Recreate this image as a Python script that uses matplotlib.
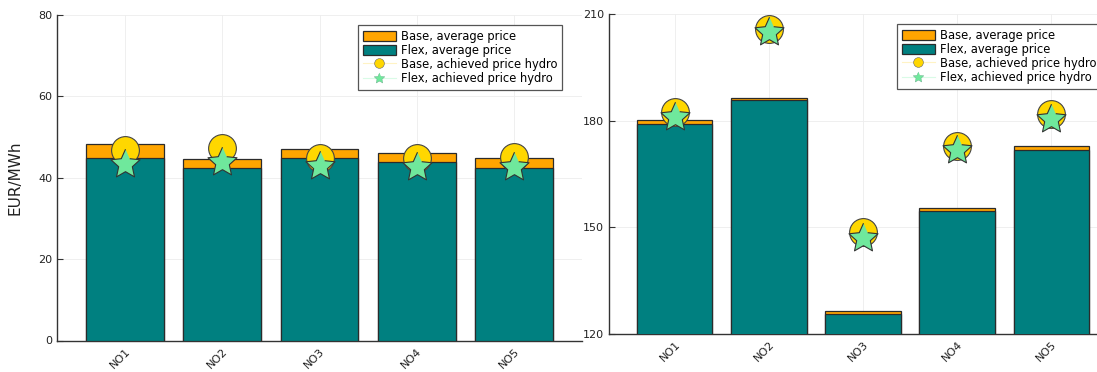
import matplotlib
matplotlib.use('Agg')
import matplotlib.pyplot as plt
from matplotlib.patches import Patch
from matplotlib.lines import Line2D
import numpy as np

# areas and prices
areas = ['NO1', 'NO2', 'NO3', 'NO4', 'NO5']

# left panel
base_avg_l = [48.3, 44.7, 47.0, 46.0, 44.9]
flex_avg_l = [44.8, 42.3, 44.8, 43.9, 42.5]
base_hydro_l = [46.8, 47.2, 44.9, 44.9, 45.0]
flex_hydro_l = [43.5, 43.8, 42.9, 42.7, 42.6]

# right panel
base_avg_r = [180.3, 186.5, 126.5, 155.5, 172.9]
flex_avg_r = [179.0, 185.9, 125.6, 154.6, 171.8]
base_hydro_r = [182.3, 205.7, 148.6, 172.9, 181.8]
flex_hydro_r = [180.9, 205.0, 147.0, 171.7, 180.6]

ORANGE = '#FFA500'
TEAL = '#008080'
GOLD = '#FFD700'
GREEN = '#6FE89C'
EDGE = '#2b2b2b'

# fatter 5-point star, like the julia star5 marker
ang = np.pi / 2 + np.arange(10) * np.pi / 5
rad = np.where(np.arange(10) % 2 == 0, 1.0, 0.47)
STAR = list(zip(rad * np.cos(ang), rad * np.sin(ang)))

plt.rcParams['font.family'] = 'DejaVu Sans'

W, H = 1097, 372
fig = plt.figure(figsize=(W / 100, H / 100), dpi=100)
# pixel boxes; right panel runs past the image edge like in the original
ax1 = fig.add_axes([57 / W, (H - 340.5) / H, 525 / W, 325.5 / H])
ax2 = fig.add_axes([609 / W, (H - 334) / H, 508 / W, 320 / H])


def draw_panel(ax, base_avg, flex_avg, base_hydro, flex_hydro, ylim, yticks, leg_anchor):
    x = np.arange(1, len(areas) + 1)
    ax.bar(x, base_avg, width=0.8, color=ORANGE, edgecolor=EDGE, linewidth=0.9, zorder=2)
    ax.bar(x, flex_avg, width=0.8, color=TEAL, edgecolor=EDGE, linewidth=0.9, zorder=3)
    ax.plot(x, base_hydro, 'o', ms=20, mfc=GOLD, mec='#444444', mew=0.8, ls='none', zorder=4)
    ax.plot(x, flex_hydro, marker=STAR, ms=22, mfc=GREEN, mec='#333333', mew=0.8, ls='none', zorder=5)

    ax.set_xlim(0.30, 5.70)
    ax.set_ylim(*ylim)
    ax.set_yticks(yticks)
    ax.set_xticks(x)
    ax.set_xticklabels(areas, rotation=45, ha='right', rotation_mode='anchor')
    ax.grid(True, color='#ededed', linewidth=0.6, zorder=0)
    ax.set_axisbelow(True)
    for s in ['top', 'right']:
        ax.spines[s].set_visible(False)
    for s in ['left', 'bottom']:
        ax.spines[s].set_color('#333333')
        ax.spines[s].set_linewidth(1.0)
    ax.tick_params(axis='both', direction='in', length=4, width=0.8, labelsize=8,
                   colors='#333333', labelcolor='#222222')
    ax.tick_params(axis='x', length=0, pad=4)

    handles = [
        Patch(facecolor=ORANGE, edgecolor=EDGE, linewidth=0.9),
        Patch(facecolor=TEAL, edgecolor=EDGE, linewidth=0.9),
        Line2D([], [], color='#fff3c4', lw=0.8, marker='o', ms=7, mfc=GOLD, mec='#666666', mew=0.4),
        Line2D([], [], color='#d9fbe6', lw=0.8, marker=STAR, ms=8, mfc=GREEN, mec='#66aa88', mew=0.3),
    ]
    labels = ['Base, average price', 'Flex, average price',
              'Base, achieved price hydro', 'Flex, achieved price hydro']
    leg = ax.legend(handles, labels, loc='upper left', bbox_to_anchor=leg_anchor,
                    fontsize=8.3, frameon=True, fancybox=False, framealpha=1,
                    edgecolor='#555555', handlelength=2.9, handleheight=0.95,
                    labelspacing=0.1, borderpad=0.4, handletextpad=0.4,
                    borderaxespad=0)
    leg.get_frame().set_linewidth(0.9)
    leg.set_zorder(10)


draw_panel(ax1, base_avg_l, flex_avg_l, base_hydro_l, flex_hydro_l,
           (0, 80), [0, 20, 40, 60, 80], ((358 - 57) / 525, (340.5 - 25) / 325.5))
ax1.set_ylabel('EUR/MWh', fontsize=11, color='#222222')
ax1.yaxis.set_label_coords(-35 / 525, 0.5)

draw_panel(ax2, base_avg_r, flex_avg_r, base_hydro_r, flex_hydro_r,
           (120, 210), [120, 150, 180, 210], ((897 - 609) / 508, (334 - 24) / 320))

fig.savefig('out.png', dpi=100)
